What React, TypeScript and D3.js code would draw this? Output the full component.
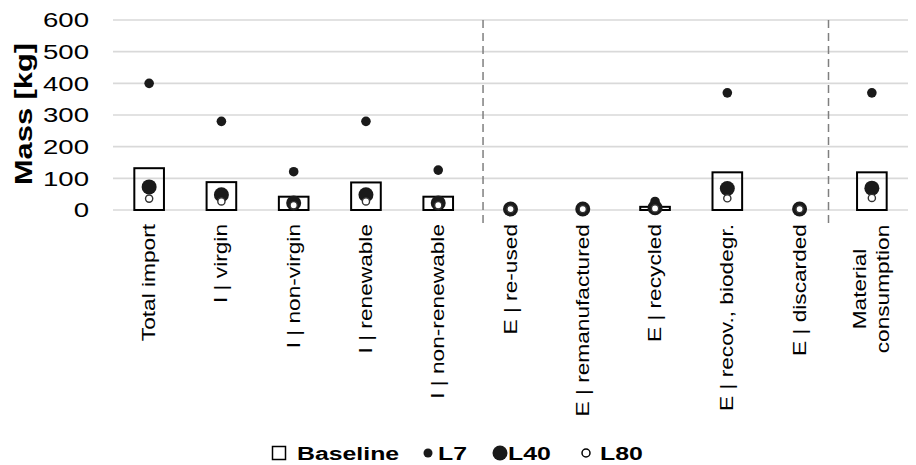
import React from "react";
import * as d3 from "d3";

const categories = [
  "Total import",
  "I | virgin",
  "I | non-virgin",
  "I | renewable",
  "I | non-renewable",
  "E | re-used",
  "E | remanufactured",
  "E | recycled",
  "E | recov., biodegr.",
  "E | discarded",
  "Material\nconsumption",
];
const baseline = [132, 88, 42, 87, 42, 0, 0, 10, 119, 0, 119];
const l7 = [400, 280, 121, 280, 126, 3, 3, 27, 370, 3, 370];
const l40 = [73, 48, 22, 48, 22, 3, 3, 7, 68, 3, 69];
const l80 = [36, 27, 15, 27, 15, 3, 3, 5, 37, 3, 38];
const yTicks = [0, 100, 200, 300, 400, 500, 600];
// separators, expressed as fractional category positions
const dividers = [4.62, 9.4];
const legendItems = ["Baseline", "L7", "L40", "L80"];

const W = 916;
const H = 465;
const FONT = "'Liberation Sans', Arial, sans-serif";

export default function App() {
  const x = d3
    .scaleBand<number>()
    .domain(categories.map((_, i) => i))
    .range([113, 908])
    .padding(0);
  const bw = x.bandwidth();
  const cx = (i: number) => (x(i) as number) + bw / 2;
  const xFrac = (k: number) => 113 + (k + 0.5) * bw;
  const y = d3.scaleLinear().domain([0, 600]).range([210, 20]);
  const barW = bw * 0.41;
  const dark = "#1a1a1a";

  const legendSym = [279, 428, 500, 586];
  const legendTxt = [297, 438, 508, 600];
  const ly = 453;

  return (
    <svg
      width={W}
      height={H}
      style={{ position: "absolute", left: 0, top: 0, background: "#fff" }}
      fontFamily={FONT}
    >
      {/* gridlines */}
      {yTicks.map((t) => (
        <line
          key={"g" + t}
          x1={113}
          x2={908}
          y1={y(t)}
          y2={y(t)}
          stroke="#d9d9d9"
          strokeWidth={1.6}
        />
      ))}
      {/* y tick labels */}
      {yTicks.map((t) => (
        <g key={"t" + t} transform={`translate(89,${y(t)}) scale(1.38,1)`}>
          <text textAnchor="end" dy="0.36em" fontSize={20} fill="#000">
            {t}
          </text>
        </g>
      ))}
      {/* y title */}
      <g transform={`translate(32,114) rotate(-90) scale(1.34,1)`}>
        <text textAnchor="middle" fontSize={23} fontWeight="bold" fill="#000">
          Mass [kg]
        </text>
      </g>
      {/* dividers */}
      {dividers.map((d, i) => (
        <line
          key={"d" + i}
          x1={xFrac(d)}
          x2={xFrac(d)}
          y1={y(600)}
          y2={226}
          stroke="#7f7f7f"
          strokeWidth={1.5}
          strokeDasharray="8 5"
        />
      ))}
      {/* baseline bars */}
      {baseline.map((v, i) =>
        v > 0 ? (
          <rect
            key={"b" + i}
            x={cx(i) - barW / 2}
            y={y(v)}
            width={barW}
            height={y(0) - y(v)}
            fill="none"
            stroke="#000"
            strokeWidth={2}
          />
        ) : null
      )}
      {/* L7 */}
      {l7.map((v, i) => (
        <circle key={"a" + i} cx={cx(i)} cy={y(v)} r={4.8} fill={dark} />
      ))}
      {/* L40 */}
      {l40.map((v, i) => (
        <circle key={"c" + i} cx={cx(i)} cy={y(v)} r={7.5} fill={dark} />
      ))}
      {/* L80 */}
      {l80.map((v, i) => (
        <circle
          key={"e" + i}
          cx={cx(i)}
          cy={y(v)}
          r={3.6}
          fill="#fff"
          stroke="#333"
          strokeWidth={1.4}
        />
      ))}
      {/* x labels */}
      {categories.map((c, i) => {
        const lines = c.split("\n");
        if (lines.length === 1) {
          return (
            <g
              key={"x" + i}
              transform={`translate(${cx(i) + 6},224) rotate(-90) scale(1.26,1)`}
            >
              <text textAnchor="end" fontSize={18} fill="#000">
                {c}
              </text>
            </g>
          );
        }
        const lh = 23;
        return (
          <g key={"x" + i}>
            {lines.map((ln, j) => (
              <g
                key={j}
                transform={`translate(${cx(i) + 6 + (j - (lines.length - 1) / 2) * lh},289) rotate(-90) scale(1.26,1)`}
              >
                <text textAnchor="middle" fontSize={18} fill="#000">
                  {ln}
                </text>
              </g>
            ))}
          </g>
        );
      })}
      {/* legend */}
      <rect
        x={legendSym[0] - 6.5}
        y={ly - 6.5}
        width={13}
        height={13}
        fill="none"
        stroke="#000"
        strokeWidth={1.5}
      />
      <circle cx={legendSym[1]} cy={ly} r={4.5} fill={dark} />
      <circle cx={legendSym[2]} cy={ly} r={7.5} fill={dark} />
      <circle
        cx={legendSym[3]}
        cy={ly}
        r={4}
        fill="#fff"
        stroke="#000"
        strokeWidth={1.5}
      />
      {legendItems.map((t, i) => (
        <g key={"l" + i} transform={`translate(${legendTxt[i]},${ly + 6.5}) scale(1.38,1)`}>
          <text fontSize={18} fontWeight="bold" fill="#000">
            {t}
          </text>
        </g>
      ))}
    </svg>
  );
}
